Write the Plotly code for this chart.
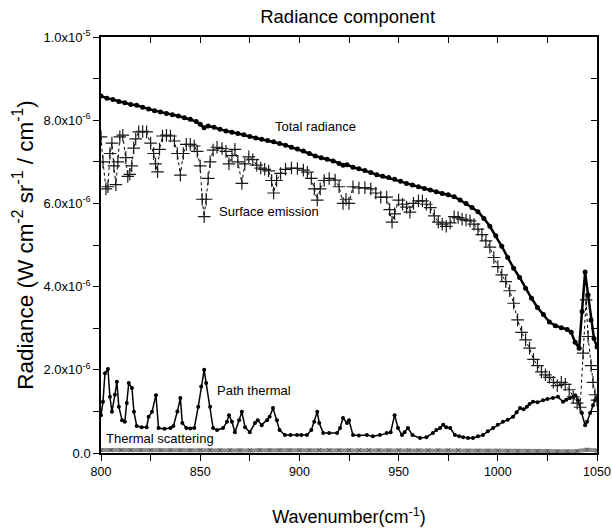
import plotly.graph_objects as go

# Units of 1e-6 W cm^-2 sr^-1 / cm^-1
total_x = [800, 803, 806, 809, 812, 815, 818, 821, 824, 827, 830, 833, 836, 839, 842, 845, 848, 850, 852, 854,
           857, 860, 863, 866, 869, 872, 875, 878, 881, 884, 887, 890, 893, 896, 899, 902, 905, 908, 911, 914,
           917, 920, 922, 924, 927, 930, 933, 936, 939, 942, 945, 948, 951, 954, 957, 960, 963, 966, 969, 972,
           975, 978, 981, 984, 987, 990, 993, 996, 999, 1002, 1005, 1008, 1011, 1014, 1017, 1020, 1023, 1026,
           1029, 1032, 1035, 1037, 1039, 1041, 1042.5, 1044, 1045.5, 1047, 1048.5, 1050]
total_y = [8.58, 8.53, 8.50, 8.45, 8.42, 8.38, 8.36, 8.31, 8.27, 8.23, 8.20, 8.16, 8.13, 8.10, 8.06, 8.02, 7.97, 7.90, 7.82, 7.86,
           7.83, 7.78, 7.74, 7.71, 7.68, 7.65, 7.61, 7.57, 7.54, 7.51, 7.48, 7.44, 7.40, 7.35, 7.31, 7.26, 7.20, 7.14, 7.10, 7.06,
           7.02, 6.96, 6.92, 6.93, 6.87, 6.83, 6.79, 6.74, 6.69, 6.65, 6.62, 6.58, 6.53, 6.48, 6.44, 6.40, 6.36, 6.32, 6.28, 6.24,
           6.21, 6.16, 6.08, 6.00, 5.90, 5.80, 5.64, 5.45, 5.22, 4.97, 4.70, 4.44, 4.22, 3.96, 3.72, 3.50, 3.33, 3.15,
           3.06, 3.01, 2.97, 2.90, 2.66, 2.52, 3.40, 4.35, 3.80, 3.20, 2.75, 2.55]

surf_x = [800, 801, 802.5, 803.5, 804.5, 805.5, 806.5, 807.5, 808.5, 809.5, 811, 812.5, 813.5, 814.5, 815.5, 816.5,
          817.5, 819, 821, 823, 825, 826.5, 827.5, 828.5, 829.5, 831, 833, 835, 837, 838.5, 840, 841.5, 843, 845,
          847, 848.5, 850, 851, 852, 853, 854, 855, 856.5, 858.5, 861, 863, 864.5, 866, 867.5, 869, 871, 872.5,
          874.5, 876.5, 878.5, 880.5, 882.5, 884.5, 886, 887, 888.5, 890.5, 893, 896, 899, 902, 904, 906, 907.5,
          909, 910.5, 912.5, 915, 918, 920, 922, 923.5, 925, 927, 930, 933, 936, 938.5, 941, 944, 945.5, 946.7,
          948, 950, 952, 954, 955.7, 957.5, 960, 962, 964, 966, 968, 970, 972, 974, 976, 978, 980, 982, 984, 986,
          988, 990, 992, 994, 996, 998, 1000, 1002, 1004, 1006, 1008, 1010, 1012, 1014, 1016, 1018, 1020, 1022,
          1024, 1026, 1028, 1030, 1032, 1034, 1036, 1038, 1040, 1041.5, 1043, 1044.5, 1045.5, 1047, 1048, 1049, 1050]
surf_y = [7.60, 7.00, 6.35, 6.40, 7.20, 7.45, 6.90, 6.45, 7.00, 7.60, 7.64, 7.10, 6.65, 6.70, 6.90, 7.33,
          7.55, 7.72, 7.73, 7.72, 7.45, 7.20, 6.95, 6.76, 7.30, 7.62, 7.64, 7.62, 7.50, 7.20, 6.68, 7.20, 7.42, 7.42,
          7.38, 7.25, 6.90, 6.10, 5.68, 6.10, 6.60, 7.00, 7.28, 7.35, 7.32, 7.25, 6.95, 7.15, 7.30, 7.00, 6.48, 6.95,
          7.12, 7.05, 6.92, 6.85, 6.82, 6.78, 6.55, 6.25, 6.55, 6.72, 6.82, 6.85, 6.84, 6.80, 6.75, 6.60, 6.35,
          6.08, 6.35, 6.55, 6.60, 6.56, 6.40, 6.00, 6.10, 6.00, 6.40, 6.37, 6.38, 6.35, 6.25, 6.15, 6.15, 5.85, 5.55,
          5.75, 6.08, 5.98, 5.91, 5.79, 6.00, 6.06, 6.06, 5.98, 5.90, 5.70, 5.55, 5.50, 5.45, 5.53, 5.68, 5.66, 5.62, 5.60, 5.58,
          5.50, 5.38, 5.25, 5.10, 4.95, 4.70, 4.48, 4.28, 4.12, 3.90, 3.60, 3.20, 2.90, 2.72, 2.52, 2.25, 2.10, 1.95,
          1.88, 1.82, 1.70, 1.62, 1.70, 1.65, 1.52, 1.35, 1.20, 1.10, 2.40, 3.68, 2.80, 2.10, 1.70, 1.40, 1.27]

path_x = [800, 801, 802, 803.5, 804.5, 805.5, 807, 808, 809, 810.6, 812, 813, 814, 815.6, 816.6, 818, 820.5, 823,
          824, 825.7, 827.7, 829, 832, 835, 836.5, 838.5, 840, 841, 843, 845, 847, 849, 850.5, 852, 853, 855,
          856.5, 858.5, 861.5, 863.5, 864.5, 866, 867.5, 869.6, 871, 872.6, 875, 877.6, 879, 881, 883.7, 885,
          886.7, 888.7, 890, 892.7, 895.5, 898.8, 901, 903.8, 906, 907.5, 909, 910, 912, 915, 919, 920.5, 922,
          924, 925, 927, 930, 934, 937, 940.6, 944, 946, 948, 949.7, 951.7, 953, 954.7, 957, 960.8, 964, 967.3,
          969, 970.9, 972.5, 974, 976, 978.4, 980.5, 982.5, 985, 987.5, 990, 992.5, 995, 997.6, 1000, 1002.6,
          1005, 1007.7, 1009.5, 1011.2, 1013, 1014.7, 1016, 1017.7, 1020, 1022.8, 1025, 1027.8, 1030.3, 1032.9,
          1034.5, 1036.4, 1038, 1039, 1040.4, 1042.4, 1044, 1045, 1046.5, 1048, 1049, 1050]
path_y = [0.91, 1.23, 1.92, 2.02, 1.35, 0.99, 1.40, 1.71, 1.11, 0.79, 0.75, 1.20, 1.68, 1.56, 0.99, 0.65, 0.62, 0.62,
          0.87, 0.99, 1.39, 0.60, 0.58, 0.60, 0.65, 1.00, 1.32, 0.72, 0.60, 0.59, 0.60, 1.11, 1.60, 2.00, 1.68, 1.11,
          0.60, 0.55, 0.60, 0.75, 0.91, 0.75, 0.50, 0.79, 0.99, 0.62, 0.50, 0.72, 0.79, 0.67, 0.79, 0.87,
          1.08, 0.79, 0.55, 0.43, 0.43, 0.43, 0.43, 0.43, 0.55, 0.75, 0.99, 0.72, 0.48, 0.48, 0.48, 0.60, 0.84,
          0.72, 0.79, 0.43, 0.42, 0.43, 0.40, 0.43, 0.48, 0.50, 0.91, 0.60, 0.43, 0.50, 0.60, 0.43, 0.36, 0.38, 0.48,
          0.55, 0.60, 0.68, 0.62, 0.60, 0.43, 0.40, 0.38, 0.36, 0.36, 0.40, 0.43, 0.52, 0.60, 0.68, 0.75,
          0.80, 0.87, 0.98, 1.08, 1.05, 1.11, 1.18, 1.23, 1.22, 1.27, 1.30, 1.32, 1.35, 1.23,
          1.28, 1.32, 1.35, 1.39, 1.27, 0.96, 0.67, 0.75, 0.96, 1.15, 1.27, 1.32]

scat_x = [800, 805, 810, 815, 820, 825, 830, 835, 840, 845, 850, 855, 860, 865, 870, 875, 880, 885, 890, 895,
          900, 905, 910, 915, 920, 925, 930, 935, 940, 945, 950, 955, 960, 965, 970, 975, 980, 985, 990, 995,
          1000, 1005, 1010, 1015, 1020, 1025, 1030, 1035, 1040, 1045, 1050]
scat_y = [0.07, 0.07, 0.07, 0.07, 0.07, 0.07, 0.07, 0.07, 0.07, 0.07, 0.07, 0.07, 0.07, 0.07, 0.07, 0.07, 0.07, 0.07, 0.07, 0.07,
          0.07, 0.07, 0.07, 0.07, 0.07, 0.07, 0.07, 0.07, 0.07, 0.07, 0.07, 0.07, 0.07, 0.07, 0.07, 0.07, 0.07, 0.06, 0.06, 0.06,
          0.06, 0.05, 0.05, 0.05, 0.05, 0.05, 0.04, 0.04, 0.05, 0.08, 0.06]

x_ticks = [800, 825, 850, 875, 900, 925, 950, 975, 1000, 1025, 1050]
x_ticktext = ["800", "", "850", "", "900", "", "950", "", "1000", "", "1050"]
y_ticks = [0, 1, 2, 3, 4, 5, 6, 7, 8, 9, 10]
y_ticktext = ["0.0", "", "2.0x10<sup>-6</sup>", "", "4.0x10<sup>-6</sup>", "", "6.0x10<sup>-6</sup>", "",
              "8.0x10<sup>-6</sup>", "", "1.0x10<sup>-5</sup>"]

FONT = "Liberation Sans, Arial, sans-serif"

fig = go.Figure()
fig.add_trace(go.Scatter(x=scat_x, y=scat_y, mode="lines+markers", line=dict(color="#8c8c8c", width=4),
                         marker=dict(symbol="x-thin", size=4, line=dict(color="#555555", width=1)),
                         hoverinfo="skip", showlegend=False))
fig.add_trace(go.Scatter(x=path_x, y=path_y, mode="lines+markers",
                         line=dict(color="black", width=1.5),
                         marker=dict(symbol="circle", size=4, color="black"), showlegend=False))
fig.add_trace(go.Scatter(x=surf_x, y=surf_y, mode="lines+markers",
                         line=dict(color="black", width=1, dash="3px,3px"),
                         marker=dict(symbol="cross-thin", size=9, color="black",
                                     line=dict(color="#1a1a1a", width=1.2)), showlegend=False))
fig.add_trace(go.Scatter(x=total_x, y=total_y, mode="lines+markers",
                         line=dict(color="black", width=2.5),
                         marker=dict(symbol="circle", size=5, color="black"), showlegend=False))
# helper trace for mirrored (inside) ticks on top/right
fig.add_trace(go.Scatter(x=[800], y=[0], xaxis="x2", yaxis="y2", mode="markers",
                         marker=dict(opacity=0), hoverinfo="skip", showlegend=False))

annot_font = dict(family=FONT, size=13, color="black")
fig.add_annotation(x=886.5, y=7.84, text="Total radiance", showarrow=False, xanchor="left", font=annot_font)
fig.add_annotation(x=858.3, y=5.8, text="Surface emission", showarrow=False, xanchor="left", font=annot_font)
fig.add_annotation(x=857.5, y=1.51, text="Path thermal", showarrow=False, xanchor="left", font=annot_font)
fig.add_annotation(x=801.5, y=0.34, text="Thermal scattering", showarrow=False, xanchor="left", font=annot_font)

fig.update_layout(
    width=612, height=531,
    margin=dict(l=101, r=15, t=37, b=78, autoexpand=False),
    paper_bgcolor="white", plot_bgcolor="white",
    title=dict(text="Radiance component", x=0.568, xanchor="center", y=0.969, yanchor="middle",
               yref="container", font=dict(family=FONT, size=18.5, color="black")),
    font=dict(family=FONT, color="black"),
    xaxis=dict(range=[800, 1050], tickmode="array", tickvals=x_ticks, ticktext=x_ticktext, automargin=False,
               ticks="outside", ticklen=6, tickwidth=1.2, tickcolor="black",
               showline=True, linecolor="black", linewidth=1.5, showgrid=False, zeroline=False,
               tickfont=dict(family=FONT, size=12.5),
               title=dict(text="Wavenumber(cm<sup>-1</sup>)", font=dict(family=FONT, size=18), standoff=33)),
    yaxis=dict(range=[0, 10], tickmode="array", tickvals=y_ticks, ticktext=y_ticktext, automargin=False,
               ticks="outside", ticklen=6, tickwidth=1.2, tickcolor="black",
               showline=True, linecolor="black", linewidth=1.5, showgrid=False, zeroline=False,
               tickfont=dict(family=FONT, size=13),
               title=dict(text="Radiance (W cm<sup>-2</sup> sr<sup>-1</sup> / cm<sup>-1</sup>)",
                          font=dict(family=FONT, size=22.5), standoff=4)),
    xaxis2=dict(range=[800, 1050], overlaying="x", side="top", tickmode="array", tickvals=x_ticks,
                ticktext=[""] * len(x_ticks), ticks="inside", ticklen=6, tickwidth=1.2, tickcolor="black",
                showline=True, linecolor="black", linewidth=1.5, showgrid=False, zeroline=False, automargin=False),
    yaxis2=dict(range=[0, 10], overlaying="y", side="right", tickmode="array", tickvals=y_ticks,
                ticktext=[""] * len(y_ticks), ticks="inside", ticklen=6, tickwidth=1.2, tickcolor="black",
                showline=True, linecolor="black", linewidth=1.5, showgrid=False, zeroline=False, automargin=False),
)

# remove the page's default body margin so the 612x531 figure fills the window exactly
fig.write_html("out.html", config={"displayModeBar": False},
               post_script="document.body.style.margin='0';document.body.style.overflow='hidden';")
